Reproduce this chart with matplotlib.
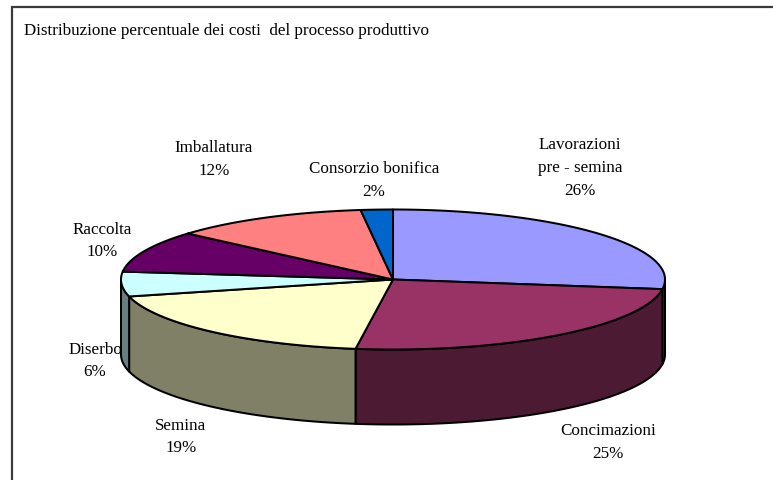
import numpy as np
import matplotlib
matplotlib.use("Agg")
import matplotlib.pyplot as plt

title = "Distribuzione percentuale dei costi  del processo produttivo"
categories = ["Lavorazioni\npre - semina", "Concimazioni", "Semina", "Diserbo",
              "Raccolta", "Imballatura", "Consorzio bonifica"]
percent_labels = [26, 25, 19, 6, 10, 12, 2]
# apparent share of the ellipse read from the drawn slice boundaries
shares = [27.2, 25.0, 18.9, 5.7, 9.6, 11.7, 1.9]
top_colors = ["#9999FF", "#993366", "#FFFFCC", "#CCFFFF", "#660066", "#FF8080", "#0066CC"]
side_colors = ["#4D4D80", "#4D1A33", "#808066", "#668080", "#330033", "#804040", "#003366"]
label_centers = [(580, 168), (608, 442.5), (181, 437), (95, 361),
                 (102, 241), (214, 159.5), (374, 180.5)]

CX, CY, RX, RY, DEPTH = 393.0, 279.5, 272.0, 70.0, 75.0
W, H = 773, 480

plt.rcParams["font.family"] = ["Liberation Serif", "DejaVu Serif"]
fig = plt.figure(figsize=(W / 100, H / 100), dpi=100)
ax = fig.add_axes([0, 0, 1, 1])
ax.set_xlim(0, W)
ax.set_ylim(H, 0)
ax.axis("off")

FS = 12.25
LW = 1.45


def arc(t0, t1, dy=0.0):
    t = np.radians(np.linspace(t0, t1, max(int(abs(t1 - t0) * 2), 2)))
    return CX + RX * np.sin(t), CY + dy - RY * np.cos(t)


# frame
ax.plot([12, 12, W + 2], [H + 2, 6.6, 6.6], color="#3A3A3A", lw=1.6, solid_joinstyle="miter", zorder=1)

edges = np.concatenate([[0], np.cumsum(shares)]) / np.sum(shares) * 360

# side walls
for i in range(len(shares)):
    a, b = max(edges[i], 90), min(edges[i + 1], 270)
    if b <= a:
        continue
    x0, y0 = arc(a, b)
    x1, y1 = arc(a, b, DEPTH)
    ax.fill(np.r_[x0, x1[::-1]], np.r_[y0, y1[::-1]], facecolor=side_colors[i],
            edgecolor="black", lw=LW, joinstyle="round", zorder=2)

# top faces
for i in range(len(shares)):
    x, y = arc(edges[i], edges[i + 1])
    ax.fill(np.r_[CX, x], np.r_[CY, y], facecolor=top_colors[i],
            edgecolor="black", lw=LW, joinstyle="round", zorder=3)

# labels
for name, pct, (x, y) in zip(categories, percent_labels, label_centers):
    ax.text(x, y, f"{name}\n{pct}%", ha="center", va="center", multialignment="center",
            fontsize=FS, linespacing=1.56, color="black", zorder=4)

ax.text(24, 31, title, ha="left", va="center", fontsize=FS, color="black", zorder=4)

fig.savefig("out.png", dpi=100, facecolor="white")
